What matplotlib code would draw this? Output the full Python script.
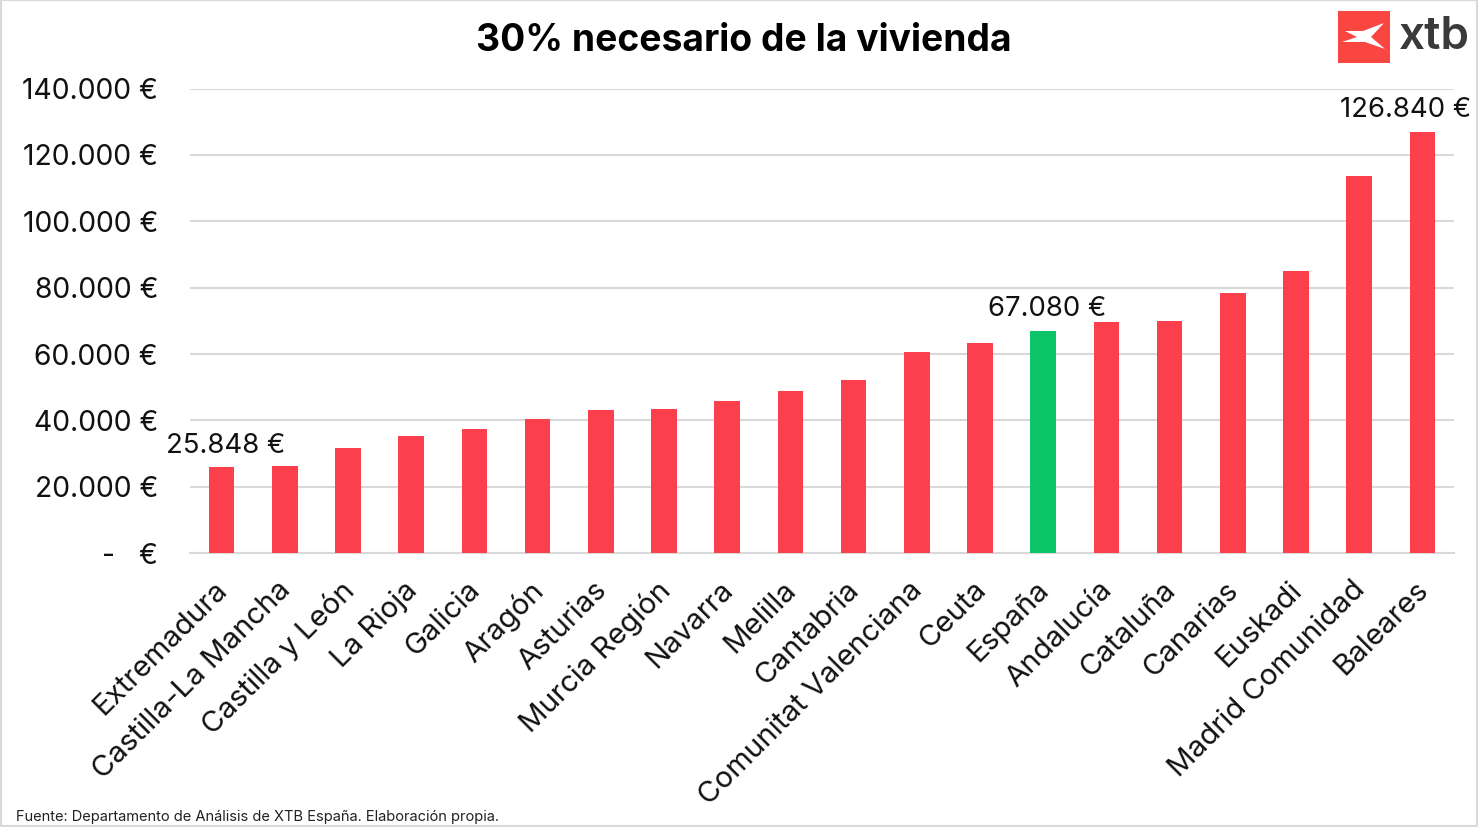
import matplotlib
matplotlib.use('Agg')
import matplotlib.pyplot as plt
from matplotlib.patches import Polygon, Rectangle
from matplotlib.transforms import ScaledTranslation

regions = ['Extremadura', 'Castilla-La Mancha', 'Castilla y León', 'La Rioja', 'Galicia',
           'Aragón', 'Asturias', 'Murcia Región', 'Navarra', 'Melilla', 'Cantabria',
           'Comunitat Valenciana', 'Ceuta', 'España', 'Andalucía', 'Cataluña', 'Canarias',
           'Euskadi', 'Madrid Comunidad', 'Baleares']
values = [25848, 26400, 31800, 35400, 37500, 40300, 43000, 43300, 46000, 49000, 52300,
          60500, 63200, 67080, 69800, 70100, 78500, 84900, 113500, 126840]
y_ticks = [0, 20000, 40000, 60000, 80000, 100000, 120000, 140000]
y_labels = ['-   €', '20.000 €', '40.000 €', '60.000 €', '80.000 €', '100.000 €', '120.000 €', '140.000 €']
labelled = {'Extremadura': '25.848 €', 'España': '67.080 €', 'Baleares': '126.840 €'}

RED = '#FC3F4D'
GREEN = '#0BC568'
INK = '#111111'
W, H = 1478, 828

plt.rcParams['font.family'] = ['Inter', 'DejaVu Sans']

fig = plt.figure(figsize=(W / 100, H / 100), dpi=100)
ax = fig.add_axes([190 / W, 1 - 554.2 / H, (1454 - 190) / W, 464.7 / H])

colors = [GREEN if r == 'España' else RED for r in regions]
ax.bar(range(len(regions)), values, width=0.405, color=colors, zorder=3)

ax.set_xlim(-0.5, len(regions) - 0.5)
ax.set_ylim(0, 140000)
ax.set_yticks(y_ticks)
ax.set_yticklabels(y_labels, fontsize=20.4, color=INK)
ax.set_xticks(range(len(regions)))
ax.set_xticklabels(regions, rotation=45, ha='right', va='top', rotation_mode='anchor',
                   fontsize=21.2, color=INK)
ax.tick_params(length=0)
ax.tick_params(axis='x', pad=16)
ax.tick_params(axis='y', pad=23)
ax.grid(axis='y', color='#D9D9D9', linewidth=1.5, zorder=0)
ax.set_axisbelow(True)
for side in ['top', 'right', 'left']:
    ax.spines[side].set_visible(False)
ax.spines['bottom'].set_color('#D9D9D9')
ax.spines['bottom'].set_linewidth(1.5)

# nudge the slanted region names left so they end under their bars
nudge_x = ScaledTranslation(-8 / 100, 0, fig.dpi_scale_trans)
for lab in ax.get_xticklabels():
    lab.set_transform(lab.get_transform() + nudge_x)
nudge_y = ScaledTranslation(0, 1 / 100, fig.dpi_scale_trans)
for lab in ax.get_yticklabels():
    lab.set_transform(lab.get_transform() + nudge_y)

# value labels for the cheapest, the national and the most expensive region
label_offsets = {'Extremadura': (3, 7), 'España': (3, 7), 'Baleares': (-12, 7)}
for name, text in labelled.items():
    i = regions.index(name)
    ax.annotate(text, (i, values[i]), xytext=label_offsets[name], textcoords='offset points',
                ha='center', va='bottom', fontsize=19.8, color=INK, annotation_clip=False)

fig.text(743.5 / W, 1 - 41 / H, '30% necesario de la vivienda', ha='center', va='center',
         fontsize=26.8, fontweight='bold', color='black')
fig.text(16 / W, 1 - 817 / H, 'Fuente: Departamento de Análisis de XTB España. Elaboración propia.',
         ha='left', va='center', fontsize=10.55, color='#222222')

# logo
fig.add_artist(Rectangle((1338 / W, 1 - 63.5 / H), 52 / W, 52 / H, transform=fig.transFigure,
                         facecolor='#FA4640', edgecolor='none'))
star = [(1345, 32), (1363, 32), (1384, 24), (1371, 38), (1385, 50), (1365, 43),
        (1342, 43), (1357, 38)]
fig.add_artist(Polygon([(x / W, 1 - y / H) for x, y in star], closed=True,
                       transform=fig.transFigure, facecolor='white', edgecolor='none'))
fig.text(1399 / W, 1 - 37 / H, 'xtb', ha='left', va='center', fontsize=33, fontweight='semibold',
         color='#3A3A3A')

# thin frame around the whole figure
fig.add_artist(Rectangle((0, 0), 1, 1, transform=fig.transFigure, facecolor='none',
                         edgecolor='#D9D9D9', linewidth=3))

fig.savefig('out.png', dpi=100)
